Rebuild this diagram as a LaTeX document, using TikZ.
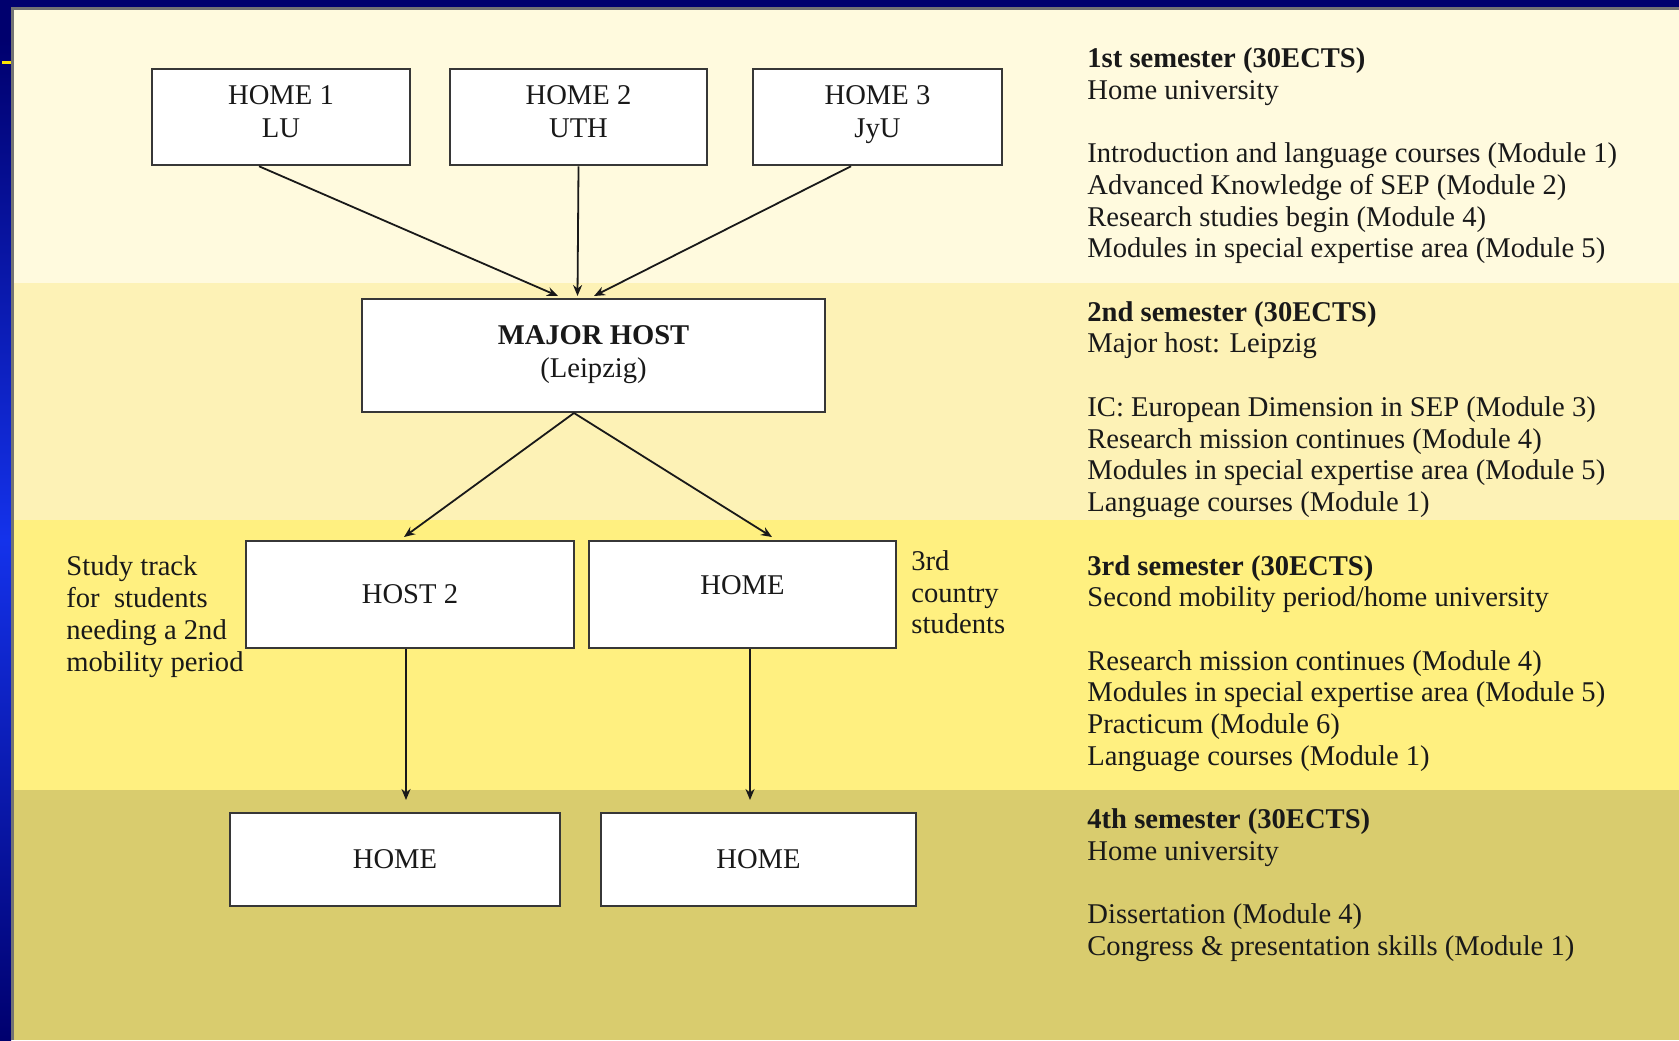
\documentclass[tikz,border=0pt]{standalone}
\usepackage{fontspec}
\setmainfont{Liberation Serif}
\usetikzlibrary{arrows.meta,calc}
\definecolor{navy}{RGB}{0,0,110}
\definecolor{slideblue}{RGB}{20,50,235}
\definecolor{bandA}{RGB}{255,250,222}
\definecolor{bandB}{RGB}{253,242,182}
\definecolor{bandC}{RGB}{255,240,128}
\definecolor{bandD}{RGB}{217,204,110}
\definecolor{boxline}{RGB}{55,55,55}
\definecolor{ink}{RGB}{25,25,25}
\newcommand\txtfont{\fontsize{14.3}{15.85}\selectfont}
\newcommand\boxfont{\fontsize{14.3}{16.5}\selectfont}
\tikzset{
  stagebox/.style={draw=boxline, line width=1pt, fill=white, rectangle, inner sep=0pt,
    align=center, font=\boxfont, text=ink},
  line/.style={anchor=base west, inner sep=0pt, font=\txtfont, text=ink},
  arr/.style={draw=ink, line width=0.9pt, -{Stealth[length=5.5pt,width=4.5pt]}}
}
\begin{document}
\begin{tikzpicture}[x=0.5pt,y=-0.5pt]
\useasboundingbox (0,0) rectangle (1679,1040);
% slide background
\fill[navy] (0,0) rectangle (1679,1040);
\shade[top color=navy, bottom color=navy, middle color=slideblue] (0,40) rectangle (11,1040);
\draw[yellow!90!orange, line width=1.5pt] (2,62) -- (11,62);
% bands
\fill[boxline!70] (11,7) rectangle (1679,1040);
\fill[bandA] (14,10) rectangle (1679,283);
\fill[bandB] (14,283) rectangle (1679,520);
\fill[bandC] (14,520) rectangle (1679,790);
\fill[bandD] (14,790) rectangle (1679,1040);

% boxes
\node[stagebox, minimum width=129pt, minimum height=48.25pt, text depth=5pt] (home1) at (281,117) {HOME 1\\LU};
\node[stagebox, minimum width=128.5pt, minimum height=48.25pt, text depth=5pt] (home2) at (578.5,117) {HOME 2\\UTH};
\node[stagebox, minimum width=124.5pt, minimum height=48.25pt, text depth=5pt] (home3) at (877.5,117) {HOME 3\\JyU};
\node[stagebox, minimum width=231.5pt, minimum height=56.5pt, text depth=4pt] (major) at (593.5,355.5) {\textbf{MAJOR HOST}\\(Leipzig)};
\node[stagebox, minimum width=164pt, minimum height=53.5pt] (host2) at (410,594.5) {HOST 2};
\node[stagebox, minimum width=153.5pt, minimum height=53.5pt, text depth=9pt] (homeA) at (742.5,594.5) {HOME};
\node[stagebox, minimum width=165pt, minimum height=46.5pt] (homeB) at (395,859.5) {HOME};
\node[stagebox, minimum width=157.5pt, minimum height=46.5pt] (homeC) at (758.5,859.5) {HOME};

% connectors
\draw[arr] ($(home1.south west)+(108,0)$) -- ($(major.north west)+(197,-2)$);
\draw[arr] (home2.south) -- ($(major.north west)+(216.5,-2)$);
\draw[arr] ($(home3.south west)+(99,0)$) -- ($(major.north west)+(233,-2)$);
\draw[arr] ($(major.south west)+(213,0)$) -- ($(host2.north west)+(159,-3)$);
\draw[arr] ($(major.south west)+(213,0)$) -- ($(homeA.north west)+(184,-3)$);
\draw[arr] ($(host2.south west)+(161,0)$) -- ($(homeB.north west)+(177,-12)$);
\draw[arr] ($(homeA.south west)+(162,0)$) -- ($(homeC.north west)+(150,-12)$);

% side notes
\node[line] (st1) at (66,575) {Study track};
\node[line] (st2) at (66,607) {for\ \ students};
\node[line] (st3) at (66,639) {needing a 2nd};
\node[line] (st4) at (66,671) {mobility period};
\node[line] (tc1) at (911,570) {3rd};
\node[line] (tc2) at (911,602) {country};
\node[line] (tc3) at (911,633) {students};

% right column: semester 1
\node[line] (a1) at (1087,67.5) {\textbf{1st semester (30ECTS)}};
\node[line] (a2) at (1087,99.2) {Home university};
\node[line] (a3) at (1087,162.6) {Introduction and language courses (Module 1)};
\node[line] (a4) at (1087,194.3) {Advanced Knowledge of SEP (Module 2)};
\node[line] (a5) at (1087,226) {Research studies begin (Module 4)};
\node[line] (a6) at (1087,257.7) {Modules in special expertise area (Module 5)};
% semester 2
\node[line] (b1) at (1087,321.2) {\textbf{2nd semester (30ECTS)}};
\node[line] (b2) at (1087,352.9) {Major host: Leipzig};
\node[line] (b3) at (1087,416.3) {IC: European Dimension in SEP (Module 3)};
\node[line] (b4) at (1087,448) {Research mission continues (Module 4)};
\node[line] (b5) at (1087,479.7) {Modules in special expertise area (Module 5)};
\node[line] (b6) at (1087,511.4) {Language courses (Module 1)};
% semester 3
\node[line] (c1) at (1087,575) {\textbf{3rd semester (30ECTS)}};
\node[line] (c2) at (1087,606.7) {Second mobility period/home university};
\node[line] (c3) at (1087,670.1) {Research mission continues (Module 4)};
\node[line] (c4) at (1087,701.8) {Modules in special expertise area (Module 5)};
\node[line] (c5) at (1087,733.5) {Practicum (Module 6)};
\node[line] (c6) at (1087,765.2) {Language courses (Module 1)};
% semester 4
\node[line] (d1) at (1087,828.8) {\textbf{4th semester (30ECTS)}};
\node[line] (d2) at (1087,860.5) {Home university};
\node[line] (d3) at (1087,923.9) {Dissertation (Module 4)};
\node[line] (d4) at (1087,955.6) {Congress \& presentation skills (Module 1)};
\end{tikzpicture}
\end{document}
